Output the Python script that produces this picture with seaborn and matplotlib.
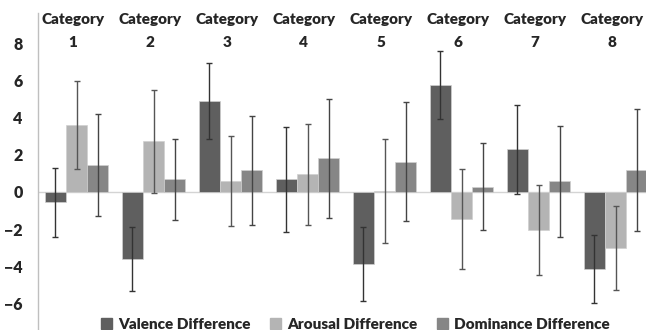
import numpy as np
import pandas as pd
import matplotlib
matplotlib.use("Agg")
import matplotlib.pyplot as plt
import seaborn as sns

# values
categories = ["1", "2", "3", "4", "5", "6", "7", "8"]
series = ["Valence Difference", "Arousal Difference", "Dominance Difference"]

valence = [-0.55, -3.6, 4.89, 0.68, -3.89, 5.75, 2.29, -4.14]
arousal = [3.6, 2.72, 0.57, 0.95, 0.03, -1.45, -2.03, -3.01]
dominance = [1.45, 0.68, 1.18, 1.81, 1.63, 0.29, 0.57, 1.16]

valence_err = [1.85, 1.74, 2.02, 2.81, 1.99, 1.84, 2.4, 1.85]
arousal_err = [2.38, 2.76, 2.42, 2.7, 2.8, 2.7, 2.42, 2.27]
dominance_err = [2.76, 2.19, 2.93, 3.2, 3.2, 2.36, 3.0, 3.28]

colors = ["#5f5f5f", "#b4b4b4", "#868686"]

df = pd.DataFrame({
    "category": categories * 3,
    "series": [s for s in series for _ in categories],
    "value": valence + arousal + dominance,
})
values = [valence, arousal, dominance]
errs = [valence_err, arousal_err, dominance_err]

sns.set_style("white")
plt.rcParams["font.family"] = ["Lato", "DejaVu Sans"]
W = "heavy"

fig = plt.figure(figsize=(6.46, 3.30), dpi=100)
ax = fig.add_axes([38 / 646, 0, 616 / 646, 1 - 13 / 330])

sns.barplot(data=df, x="category", y="value", hue="series", hue_order=series,
            palette=colors, width=0.82, saturation=1, ax=ax, legend=False,
            edgecolor="#d0d0d0", linewidth=0.5)

# error bars centred on each bar
for cont, vals, err, ec in zip(ax.containers, values, errs, ["#333333", "#555555", "#444444"]):
    xs = [p.get_x() + p.get_width() / 2 for p in cont.patches]
    ax.errorbar(xs, vals, yerr=err, fmt="none", ecolor=ec, elinewidth=1,
                capsize=2.5, capthick=1)

ax.axhline(0, color="#d4d4d4", lw=1, zorder=0.5)
ax.set_ylim(-7.42, 9.62)
ax.set_xlim(-0.5, 7.5)
ax.set_yticks([-6, -4, -2, 0, 2, 4, 6, 8])
ax.set_xticks([])
ax.set_xlabel("")
ax.set_ylabel("")
ax.tick_params(axis="y", length=0, pad=11, labelsize=11.5)
for lab in ax.get_yticklabels():
    lab.set_fontweight(W)

for s in ["top", "right", "bottom"]:
    ax.spines[s].set_visible(False)
ax.spines["left"].set_color("#bfbfbf")
ax.spines["left"].set_linewidth(1)

# category labels sit a touch left of the group centres, as in the original
for i, c in enumerate(categories):
    ax.text(i - 0.05, 9.25, "Category", ha="center", va="center", fontsize=11, fontweight=W)
    ax.text(i - 0.05, 8.05, c, ha="center", va="center", fontsize=11, fontweight=W)

handles = [plt.Rectangle((0, 0), 1, 1, color=c) for c in colors]
fig.legend(handles, series, loc="lower center", bbox_to_anchor=(0.55, -0.045),
           ncol=3, frameon=False, handlelength=0.7, handleheight=0.7,
           handletextpad=0.4, columnspacing=1.3,
           prop={"weight": W, "size": 11})

fig.savefig("out.png", dpi=100)
